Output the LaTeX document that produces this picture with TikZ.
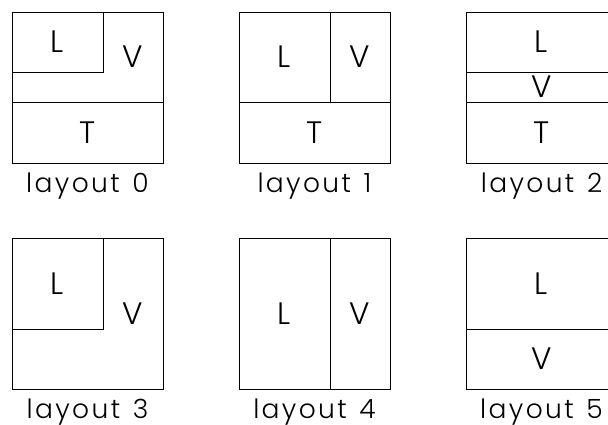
\documentclass[tikz,border=0pt]{standalone}
\usepackage{fontspec}
\setmainfont{Poppins}[UprightFont={* Light}]
\newfontfamily\capfont{Poppins}[UprightFont={* Light},LetterSpace=9]
\begin{document}
\begin{tikzpicture}[x=1pt,y=-1pt,
  frame/.style={draw=black,line width=0.9pt},
  part/.style={draw=black,line width=0.9pt},
  lbl/.style={inner sep=0pt,font=\fontsize{31}{31}\selectfont},
  captxt/.style={inner sep=0pt,anchor=base,font=\capfont\fontsize{26.5}{26.5}\selectfont}]
\useasboundingbox (0,0) rectangle (608,425);
\clip (0,0) rectangle (608,425);
% layout 0
\draw[frame] (12,12) rectangle (163,163);
\draw[part] (12,72) -- (103,72) -- (103,12);
\draw[part] (12,102) -- (163,102);
\node[lbl] (l0L) at (57.5,42) {L};
\node[lbl] (l0V) at (133,57) {V};
\node[lbl] (l0T) at (87.5,132.5) {T};
\node[captxt] (c0) at (87.5,192.5) {layout\hspace{3pt} 0};
% layout 1
\draw[frame] (239,12) rectangle (390,163);
\draw[part] (330,12) -- (330,102);
\draw[part] (239,102) -- (390,102);
\node[lbl] (l1L) at (284.5,57) {L};
\node[lbl] (l1V) at (360,57) {V};
\node[lbl] (l1T) at (314.5,132.5) {T};
\node[captxt] (c1) at (314.5,192.5) {layout\hspace{3pt} 1};
% layout 2
\draw[frame] (466,12) rectangle (617,163);
\draw[part] (466,72) -- (617,72);
\draw[part] (466,102) -- (617,102);
\node[lbl] (l2L) at (541.5,42) {L};
\node[lbl] (l2V) at (541.5,87) {V};
\node[lbl] (l2T) at (541.5,132.5) {T};
\node[captxt] (c2) at (541.5,192.5) {layout\hspace{3pt} 2};
% layout 3
\draw[frame] (12,238) rectangle (163,389);
\draw[part] (12,329) -- (103,329) -- (103,238);
\node[lbl] (l3L) at (57.5,283.5) {L};
\node[lbl] (l3V) at (133,313.5) {V};
\node[captxt] (c3) at (87.5,418) {layout\hspace{3pt} 3};
% layout 4
\draw[frame] (239,238) rectangle (390,389);
\draw[part] (330,238) -- (330,389);
\node[lbl] (l4L) at (284.5,313.5) {L};
\node[lbl] (l4V) at (360,313.5) {V};
\node[captxt] (c4) at (314.5,418) {layout\hspace{3pt} 4};
% layout 5
\draw[frame] (466,238) rectangle (617,389);
\draw[part] (466,329) -- (617,329);
\node[lbl] (l5L) at (541.5,283.5) {L};
\node[lbl] (l5V) at (541.5,359) {V};
\node[captxt] (c5) at (541.5,418) {layout\hspace{3pt} 5};
\end{tikzpicture}
\end{document}
